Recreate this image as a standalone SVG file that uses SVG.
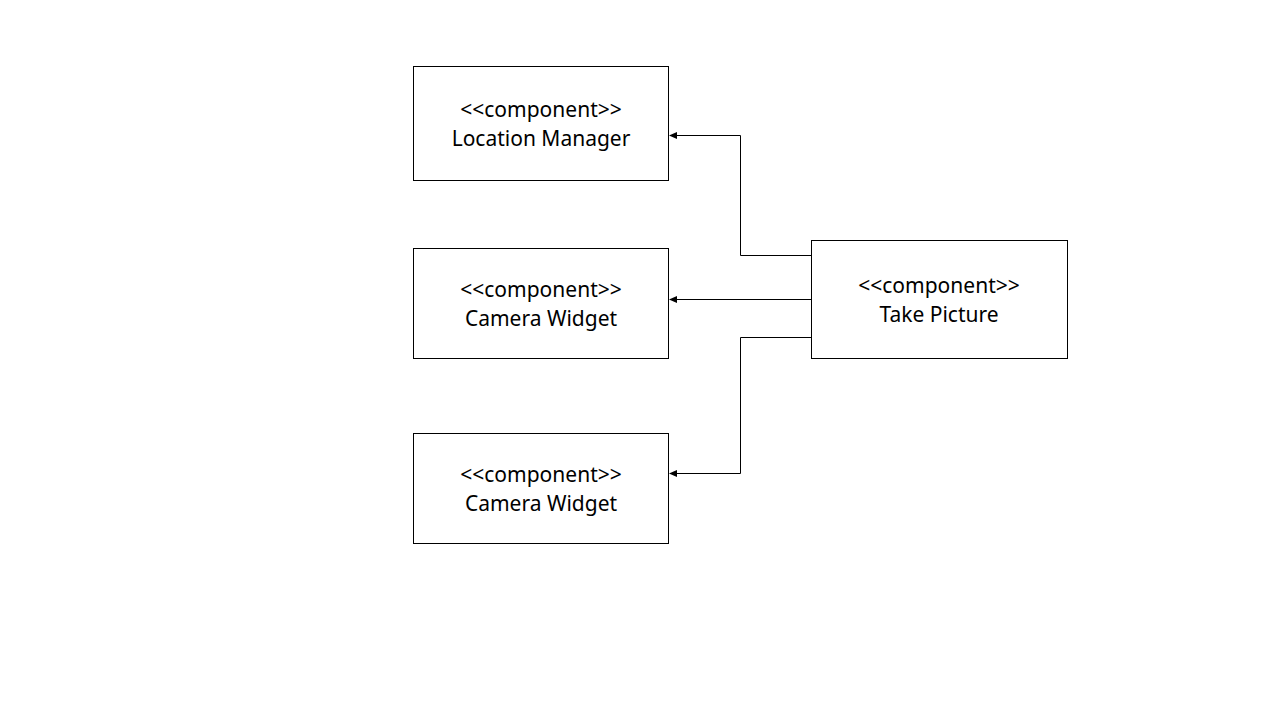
<svg xmlns="http://www.w3.org/2000/svg" width="1280" height="720" viewBox="0 0 1280 720">
<style>
.box{fill:#fff;stroke:#000;stroke-width:1}
.t{font-family:"Noto Sans","Open Sans",sans-serif;font-size:21px;fill:#000;text-anchor:middle}
.c{fill:none;stroke:#000;stroke-width:1}
</style>
<defs>
<marker id="arr" markerWidth="8" markerHeight="7" refX="7" refY="3.5" orient="auto" markerUnits="userSpaceOnUse">
<path d="M0,0 L8,3.5 L0,7 Z" fill="#000"/>
</marker>
</defs>
<rect width="1280" height="720" fill="#fff"/>
<g id="connectors">
<path class="c" d="M811,255.5 H740.5 V135.5 H670" marker-end="url(#arr)"/>
<path class="c" d="M811,299.5 H670" marker-end="url(#arr)"/>
<path class="c" d="M811,337.5 H740.5 V473.5 H670" marker-end="url(#arr)"/>
</g>
<g id="location-manager">
<rect class="box" x="413.5" y="66.5" width="255" height="114"/>
<text class="t" x="541" y="117">&lt;&lt;component&gt;&gt;</text>
<text class="t" x="541" y="146">Location Manager</text>
</g>
<g id="camera-widget-1">
<rect class="box" x="413.5" y="248.5" width="255" height="110"/>
<text class="t" x="541" y="297">&lt;&lt;component&gt;&gt;</text>
<text class="t" x="541" y="326">Camera Widget</text>
</g>
<g id="camera-widget-2">
<rect class="box" x="413.5" y="433.5" width="255" height="110"/>
<text class="t" x="541" y="482">&lt;&lt;component&gt;&gt;</text>
<text class="t" x="541" y="511">Camera Widget</text>
</g>
<g id="take-picture">
<rect class="box" x="811.5" y="240.5" width="256" height="118"/>
<text class="t" x="939" y="293">&lt;&lt;component&gt;&gt;</text>
<text class="t" x="939" y="322">Take Picture</text>
</g>
</svg>
